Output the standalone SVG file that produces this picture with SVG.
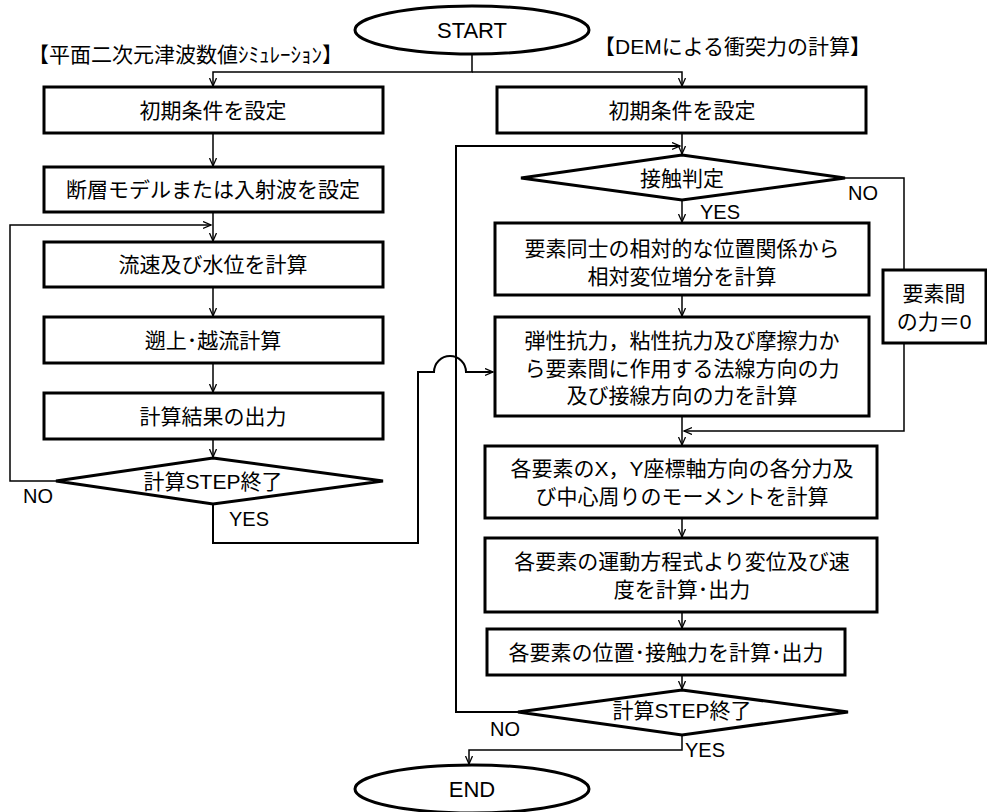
<svg xmlns="http://www.w3.org/2000/svg" width="987" height="812" viewBox="0 0 987 812">
<defs>
<marker id="arr" markerUnits="userSpaceOnUse" markerWidth="10" markerHeight="10" refX="8" refY="4" orient="auto"><path d="M0,0.5 L8,4 L0,7.5" fill="none" stroke="#000" stroke-width="1.3"/></marker>
<style>
.box{fill:#fff;stroke:#000;stroke-width:3}
.t{font-family:'Liberation Sans','Noto Sans CJK JP',sans-serif;font-size:21px;text-anchor:middle;fill:#000}
.h{font-family:'Liberation Sans','Noto Sans CJK JP',sans-serif;font-size:21px;fill:#000}
.lbl{font-family:'Liberation Sans',sans-serif;font-size:20px;fill:#000}
.c{fill:none;stroke:#000;stroke-width:1.5}
.c2{fill:none;stroke:#000;stroke-width:2}
</style>
</defs>
<rect x="0" y="0" width="987" height="812" fill="#fff"/>

<g id="connectors">
<path class="c" d="M472,54 V72 H213 V86" marker-end="url(#arr)"/>
<path class="c" d="M472,72 H682 V86" marker-end="url(#arr)"/>
<path class="c" d="M213,133 V166" marker-end="url(#arr)"/>
<path class="c" d="M213,212 V241" marker-end="url(#arr)"/>
<path class="c" d="M213,287 V316" marker-end="url(#arr)"/>
<path class="c" d="M213,363 V392" marker-end="url(#arr)"/>
<path class="c" d="M213,439 V457" marker-end="url(#arr)"/>
<path class="c" d="M56,481 H10 V225 H211" marker-end="url(#arr)"/>
<path class="c2" d="M213,504 V543 H418 V372 H434 A16,16 0 0 1 466,372 H493" marker-end="url(#arr)"/>
<path class="c" d="M682,133 V154" marker-end="url(#arr)"/>
<path class="c2" d="M518,712 H456 V146 H680" marker-end="url(#arr)"/>
<path class="c" d="M682,200 V222" marker-end="url(#arr)"/>
<path class="c" d="M682,295 V316" marker-end="url(#arr)"/>
<path class="c" d="M682,416 V445" marker-end="url(#arr)"/>
<path class="c" d="M845,178 H904 V431 H684" marker-end="url(#arr)"/>
<path class="c" d="M682,518 V537" marker-end="url(#arr)"/>
<path class="c" d="M682,612 V628" marker-end="url(#arr)"/>
<path class="c" d="M682,675 V689" marker-end="url(#arr)"/>
<path class="c" d="M682,735 V750 H469 V764" marker-end="url(#arr)"/>
</g>

<g id="labels">
<text class="h" x="28" y="62">【平面二次元津波数値ｼﾐｭﾚｰｼｮﾝ】</text>
<text class="h" x="594" y="54">【DEMによる衝突力の計算】</text>
<text class="lbl" x="23" y="503">NO</text>
<text class="lbl" x="229" y="526">YES</text>
<text class="lbl" x="848" y="200">NO</text>
<text class="lbl" x="700" y="219">YES</text>
<text class="lbl" x="490" y="736">NO</text>
<text class="lbl" x="685" y="757">YES</text>
</g>

<g id="start">
<ellipse cx="472" cy="30" rx="117" ry="24" fill="#fff" stroke="#000" stroke-width="3"/>
<text class="t" x="472" y="38" style="font-size:22px">START</text>
</g>

<g id="l1"><rect class="box" x="44" y="87" width="339" height="46"/><text class="t" x="213" y="118">初期条件を設定</text></g>
<g id="l2"><rect class="box" x="44" y="167" width="339" height="45"/><text class="t" x="213" y="197">断層モデルまたは入射波を設定</text></g>
<g id="l3"><rect class="box" x="44" y="242" width="339" height="45"/><text class="t" x="213" y="272">流速及び水位を計算</text></g>
<g id="l4"><rect class="box" x="44" y="317" width="339" height="46"/><text class="t" x="213" y="348">遡上･越流計算</text></g>
<g id="l5"><rect class="box" x="44" y="393" width="339" height="46"/><text class="t" x="213" y="424">計算結果の出力</text></g>
<g id="l6"><polygon class="box" points="213,458 383,481 213,504 56,481"/><text class="t" x="213" y="489">計算STEP終了</text></g>

<g id="r1"><rect class="box" x="497" y="87" width="369" height="46"/><text class="t" x="682" y="118">初期条件を設定</text></g>
<g id="r2"><polygon class="box" points="682,155 845,178 682,200 521,178"/><text class="t" x="682" y="186">接触判定</text></g>
<g id="r3"><rect class="box" x="495" y="223" width="374" height="72"/><text class="t" x="682" y="256">要素同士の相対的な位置関係から</text><text class="t" x="682" y="284">相対変位増分を計算</text></g>
<g id="r4"><rect class="box" x="495" y="317" width="374" height="99"/><text class="t" x="682" y="348">弾性抗力，粘性抗力及び摩擦力か</text><text class="t" x="682" y="376">ら要素間に作用する法線方向の力</text><text class="t" x="682" y="403">及び接線方向の力を計算</text></g>
<g id="r5"><rect class="box" x="883" y="270" width="103" height="73"/><text class="t" x="934" y="301">要素間</text><text class="t" x="934" y="329">の力＝0</text></g>
<g id="r6"><rect class="box" x="485" y="446" width="392" height="72"/><text class="t" x="682" y="476">各要素のX，Y座標軸方向の各分力及</text><text class="t" x="682" y="504">び中心周りのモーメントを計算</text></g>
<g id="r7"><rect class="box" x="485" y="538" width="392" height="74"/><text class="t" x="682" y="569">各要素の運動方程式より変位及び速</text><text class="t" x="682" y="597">度を計算･出力</text></g>
<g id="r8"><rect class="box" x="487" y="629" width="358" height="46"/><text class="t" x="666" y="660">各要素の位置･接触力を計算･出力</text></g>
<g id="r9"><polygon class="box" points="682,690 848,712 682,735 518,712"/><text class="t" x="682" y="718">計算STEP終了</text></g>

<g id="end">
<ellipse cx="472" cy="789" rx="117" ry="24" fill="#fff" stroke="#000" stroke-width="3"/>
<text class="t" x="472" y="797" style="font-size:22px">END</text>
</g>
</svg>
